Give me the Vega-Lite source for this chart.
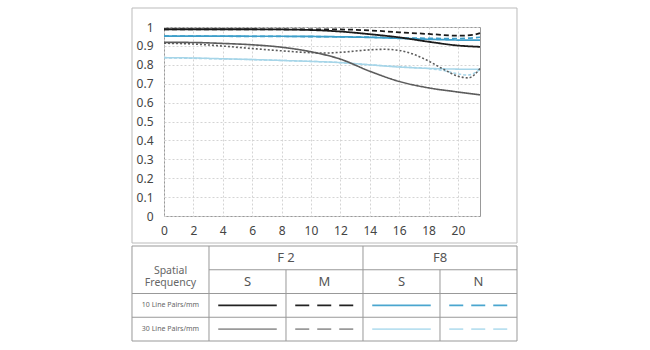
{
  "$schema": "https://vega.github.io/schema/vega-lite/v6.json",
  "padding": {"left": 131, "top": 7, "right": 5, "bottom": 2},
  "autosize": {"type": "pad"},
  "background": "white",
  "config": {
    "font": "Noto Sans",
    "view": {"stroke": null},
    "axis": {"title": null, "labelOverlap": false, "grid": true, "gridColor": "#d4d4d4", "gridDash": [2, 2], "domain": false, "ticks": false, "tickSize": 0, "labelFontSize": 12, "labelColor": "#444", "labelFlush": false}
  },
  "spacing": 0,
  "resolve": {"scale": {"color": "independent", "strokeDash": "independent", "strokeWidth": "independent"}},
  "datasets": {
    "mtf": [
      {"s": "F8 S 30", "x": 0, "v": 0.838}, {"s": "F8 S 30", "x": 2, "v": 0.836}, {"s": "F8 S 30", "x": 4, "v": 0.832}, {"s": "F8 S 30", "x": 6, "v": 0.828}, {"s": "F8 S 30", "x": 8, "v": 0.823}, {"s": "F8 S 30", "x": 10, "v": 0.818}, {"s": "F8 S 30", "x": 12, "v": 0.812}, {"s": "F8 S 30", "x": 14, "v": 0.8}, {"s": "F8 S 30", "x": 16, "v": 0.788}, {"s": "F8 S 30", "x": 18, "v": 0.781}, {"s": "F8 S 30", "x": 20, "v": 0.777}, {"s": "F8 S 30", "x": 21.5, "v": 0.776},
      {"s": "F8 N 30", "x": 0, "v": 0.837}, {"s": "F8 N 30", "x": 4, "v": 0.831}, {"s": "F8 N 30", "x": 8, "v": 0.823}, {"s": "F8 N 30", "x": 12, "v": 0.811}, {"s": "F8 N 30", "x": 14, "v": 0.8}, {"s": "F8 N 30", "x": 16, "v": 0.79}, {"s": "F8 N 30", "x": 18, "v": 0.78}, {"s": "F8 N 30", "x": 19, "v": 0.77}, {"s": "F8 N 30", "x": 20, "v": 0.752}, {"s": "F8 N 30", "x": 20.7, "v": 0.746}, {"s": "F8 N 30", "x": 21.5, "v": 0.776},
      {"s": "F2 S 30", "x": 0, "v": 0.919}, {"s": "F2 S 30", "x": 2, "v": 0.918}, {"s": "F2 S 30", "x": 4, "v": 0.913}, {"s": "F2 S 30", "x": 6, "v": 0.906}, {"s": "F2 S 30", "x": 8, "v": 0.893}, {"s": "F2 S 30", "x": 10, "v": 0.869}, {"s": "F2 S 30", "x": 12, "v": 0.83}, {"s": "F2 S 30", "x": 14, "v": 0.766}, {"s": "F2 S 30", "x": 16, "v": 0.712}, {"s": "F2 S 30", "x": 18, "v": 0.678}, {"s": "F2 S 30", "x": 20, "v": 0.656}, {"s": "F2 S 30", "x": 21.5, "v": 0.641},
      {"s": "F2 M 30", "x": 0, "v": 0.914}, {"s": "F2 M 30", "x": 2, "v": 0.91}, {"s": "F2 M 30", "x": 4, "v": 0.899}, {"s": "F2 M 30", "x": 6, "v": 0.886}, {"s": "F2 M 30", "x": 8, "v": 0.874}, {"s": "F2 M 30", "x": 10, "v": 0.864}, {"s": "F2 M 30", "x": 11, "v": 0.862}, {"s": "F2 M 30", "x": 12, "v": 0.866}, {"s": "F2 M 30", "x": 14, "v": 0.879}, {"s": "F2 M 30", "x": 15, "v": 0.882}, {"s": "F2 M 30", "x": 16, "v": 0.876}, {"s": "F2 M 30", "x": 17, "v": 0.855}, {"s": "F2 M 30", "x": 18, "v": 0.82}, {"s": "F2 M 30", "x": 19, "v": 0.777}, {"s": "F2 M 30", "x": 20, "v": 0.74}, {"s": "F2 M 30", "x": 20.7, "v": 0.731}, {"s": "F2 M 30", "x": 21.5, "v": 0.78},
      {"s": "F8 S 10", "x": 0, "v": 0.952}, {"s": "F8 S 10", "x": 2, "v": 0.952}, {"s": "F8 S 10", "x": 4, "v": 0.952}, {"s": "F8 S 10", "x": 6, "v": 0.951}, {"s": "F8 S 10", "x": 8, "v": 0.951}, {"s": "F8 S 10", "x": 10, "v": 0.95}, {"s": "F8 S 10", "x": 12, "v": 0.948}, {"s": "F8 S 10", "x": 14, "v": 0.945}, {"s": "F8 S 10", "x": 16, "v": 0.94}, {"s": "F8 S 10", "x": 18, "v": 0.935}, {"s": "F8 S 10", "x": 20, "v": 0.931}, {"s": "F8 S 10", "x": 21.5, "v": 0.93},
      {"s": "F8 N 10", "x": 0, "v": 0.952}, {"s": "F8 N 10", "x": 4, "v": 0.951}, {"s": "F8 N 10", "x": 8, "v": 0.95}, {"s": "F8 N 10", "x": 12, "v": 0.948}, {"s": "F8 N 10", "x": 14, "v": 0.946}, {"s": "F8 N 10", "x": 16, "v": 0.943}, {"s": "F8 N 10", "x": 18, "v": 0.94}, {"s": "F8 N 10", "x": 20, "v": 0.939}, {"s": "F8 N 10", "x": 21.5, "v": 0.946},
      {"s": "F2 S 10", "x": 0, "v": 0.988}, {"s": "F2 S 10", "x": 2, "v": 0.988}, {"s": "F2 S 10", "x": 4, "v": 0.988}, {"s": "F2 S 10", "x": 6, "v": 0.988}, {"s": "F2 S 10", "x": 8, "v": 0.987}, {"s": "F2 S 10", "x": 10, "v": 0.984}, {"s": "F2 S 10", "x": 12, "v": 0.976}, {"s": "F2 S 10", "x": 14, "v": 0.962}, {"s": "F2 S 10", "x": 16, "v": 0.945}, {"s": "F2 S 10", "x": 18, "v": 0.922}, {"s": "F2 S 10", "x": 20, "v": 0.902}, {"s": "F2 S 10", "x": 21.5, "v": 0.895},
      {"s": "F2 M 10", "x": 0, "v": 0.988}, {"s": "F2 M 10", "x": 2, "v": 0.988}, {"s": "F2 M 10", "x": 4, "v": 0.988}, {"s": "F2 M 10", "x": 6, "v": 0.988}, {"s": "F2 M 10", "x": 8, "v": 0.988}, {"s": "F2 M 10", "x": 10, "v": 0.988}, {"s": "F2 M 10", "x": 12, "v": 0.987}, {"s": "F2 M 10", "x": 14, "v": 0.982}, {"s": "F2 M 10", "x": 16, "v": 0.972}, {"s": "F2 M 10", "x": 18, "v": 0.963}, {"s": "F2 M 10", "x": 20, "v": 0.954}, {"s": "F2 M 10", "x": 21, "v": 0.958}, {"s": "F2 M 10", "x": 21.5, "v": 0.968}
    ]
  },
  "vconcat": [
    {
      "width": 316,
      "height": 189,
      "view": {"stroke": "#999", "strokeWidth": 1},
      "layer": [
        {
          "data": {"name": "mtf"},
          "mark": {"type": "line", "interpolate": "monotone"},
          "encoding": {
            "x": {
              "field": "x", "type": "quantitative",
              "scale": {"domain": [0, 21.5], "nice": false, "zero": false},
              "axis": {"values": [0, 2, 4, 6, 8, 10, 12, 14, 16, 18, 20], "labelPadding": 9}
            },
            "y": {
              "field": "v", "type": "quantitative",
              "scale": {"domain": [0, 1], "nice": false},
              "axis": {"values": [0, 0.1, 0.2, 0.3, 0.4, 0.5, 0.6, 0.7, 0.8, 0.9, 1], "format": ".1~f", "labelPadding": 11}
            },
            "color": {
              "field": "s", "type": "nominal", "legend": null,
              "scale": {"domain": ["F2 S 10", "F2 M 10", "F8 S 10", "F8 N 10", "F2 S 30", "F2 M 30", "F8 S 30", "F8 N 30"],
                        "range": ["#1a1a1a", "#1a1a1a", "#3d9ec9", "#3d9ec9", "#5c5c5c", "#5c5c5c", "#a6d5e8", "#a6d5e8"]}
            },
            "strokeDash": {
              "field": "s", "type": "nominal", "legend": null,
              "scale": {"domain": ["F2 S 10", "F2 M 10", "F8 S 10", "F8 N 10", "F2 S 30", "F2 M 30", "F8 S 30", "F8 N 30"],
                        "range": [[1, 0], [5, 3], [1, 0], [5, 3], [1, 0], [2, 2], [1, 0], [3, 2]]}
            },
            "strokeWidth": {
              "field": "s", "type": "nominal", "legend": null,
              "scale": {"domain": ["F2 S 10", "F2 M 10", "F8 S 10", "F8 N 10", "F2 S 30", "F2 M 30", "F8 S 30", "F8 N 30"],
                        "range": [1.8, 1.5, 1.5, 1.3, 0.9, 1, 1.2, 1.2]}
            }
          }
        },
        {
          "data": {"values": [{}]},
          "mark": {"type": "rect", "fill": "transparent", "stroke": "#bbb", "strokeWidth": 1},
          "encoding": {
            "x": {"datum": -2.177, "type": "quantitative", "axis": {"values": [0, 2, 4, 6, 8, 10, 12, 14, 16, 18, 20], "labelPadding": 9}},
            "x2": {"datum": 24.017},
            "y": {"datum": 1.1005, "type": "quantitative", "axis": {"values": [0, 0.1, 0.2, 0.3, 0.4, 0.5, 0.6, 0.7, 0.8, 0.9, 1], "format": ".1~f", "labelPadding": 11}},
            "y2": {"datum": -0.1429}
          }
        }
      ]
    },
    {
      "width": 353,
      "height": 95,
      "layer": [
        {
          "data": {"values": [{}]},
          "mark": {"type": "rect", "fill": "transparent", "stroke": "#999", "strokeWidth": 1},
          "encoding": {
            "x": {"datum": 0, "type": "quantitative", "scale": {"domain": [0.4156, 5], "nice": false, "zero": false}, "axis": null},
            "x2": {"datum": 5},
            "y": {"datum": 0, "type": "quantitative", "scale": {"domain": [0, 4], "reverse": true, "nice": false}, "axis": null},
            "y2": {"datum": 4}
          }
        },
        {
          "data": {"values": [{"x": 1, "y1": 0, "y2": 4}, {"x": 2, "y1": 1, "y2": 4}, {"x": 3, "y1": 0, "y2": 4}, {"x": 4, "y1": 1, "y2": 4}]},
          "mark": {"type": "rule", "color": "#999", "strokeWidth": 1},
          "encoding": {
            "x": {"field": "x", "type": "quantitative", "axis": null},
            "y": {"field": "y1", "type": "quantitative", "axis": null},
            "y2": {"field": "y2"}
          }
        },
        {
          "data": {"values": [{"y": 1, "x1": 1, "x2": 5}, {"y": 2, "x1": 0, "x2": 5}, {"y": 3, "x1": 0, "x2": 5}]},
          "mark": {"type": "rule", "color": "#999", "strokeWidth": 1},
          "encoding": {
            "x": {"field": "x1", "type": "quantitative", "axis": null},
            "x2": {"field": "x2"},
            "y": {"field": "y", "type": "quantitative", "axis": null}
          }
        },
        {
          "data": {"values": [{"t": "F 2", "x": 2, "y": 0.5}, {"t": "F8", "x": 4, "y": 0.5}, {"t": "S", "x": 1.5, "y": 1.5}, {"t": "M", "x": 2.5, "y": 1.5}, {"t": "S", "x": 3.5, "y": 1.5}, {"t": "N", "x": 4.5, "y": 1.5}]},
          "mark": {"type": "text", "fontSize": 13, "color": "#555", "baseline": "middle", "align": "center"},
          "encoding": {
            "x": {"field": "x", "type": "quantitative", "axis": null},
            "y": {"field": "y", "type": "quantitative", "axis": null},
            "text": {"field": "t"}
          }
        },
        {
          "data": {"values": [{"t": "Spatial\nFrequency", "x": 0.5, "y": 1.05}]},
          "mark": {"type": "text", "fontSize": 10.5, "color": "#666", "baseline": "middle", "align": "center", "lineBreak": "\n", "lineHeight": 12.5},
          "encoding": {
            "x": {"field": "x", "type": "quantitative", "axis": null},
            "y": {"field": "y", "type": "quantitative", "axis": null},
            "text": {"field": "t"}
          }
        },
        {
          "data": {"values": [{"t": "10 Line Pairs/mm", "x": 0.5, "y": 2.5}, {"t": "30 Line Pairs/mm", "x": 0.5, "y": 3.5}]},
          "mark": {"type": "text", "fontSize": 7, "color": "#666", "baseline": "middle", "align": "center"},
          "encoding": {
            "x": {"field": "x", "type": "quantitative", "axis": null},
            "y": {"field": "y", "type": "quantitative", "axis": null},
            "text": {"field": "t"}
          }
        },
        {
          "data": {"values": [
            {"s": "F2 S 10", "x1": 1.12, "x2": 1.88, "y": 2.5}, {"s": "F2 M 10", "x1": 2.12, "x2": 2.88, "y": 2.5},
            {"s": "F8 S 10", "x1": 3.12, "x2": 3.88, "y": 2.5}, {"s": "F8 N 10", "x1": 4.12, "x2": 4.88, "y": 2.5},
            {"s": "F2 S 30", "x1": 1.12, "x2": 1.88, "y": 3.5}, {"s": "F2 M 30", "x1": 2.12, "x2": 2.88, "y": 3.5},
            {"s": "F8 S 30", "x1": 3.12, "x2": 3.88, "y": 3.5}, {"s": "F8 N 30", "x1": 4.12, "x2": 4.88, "y": 3.5}
          ]},
          "mark": {"type": "rule"},
          "encoding": {
            "x": {"field": "x1", "type": "quantitative", "axis": null},
            "x2": {"field": "x2"},
            "y": {"field": "y", "type": "quantitative", "axis": null},
            "color": {
              "field": "s", "type": "nominal", "legend": null,
              "scale": {"domain": ["F2 S 10", "F2 M 10", "F8 S 10", "F8 N 10", "F2 S 30", "F2 M 30", "F8 S 30", "F8 N 30"],
                        "range": ["#222", "#222", "#4aa6cf", "#4aa6cf", "#9a9a9a", "#9a9a9a", "#b9e0f0", "#b9e0f0"]}
            },
            "strokeDash": {
              "field": "s", "type": "nominal", "legend": null,
              "scale": {"domain": ["F2 S 10", "F2 M 10", "F8 S 10", "F8 N 10", "F2 S 30", "F2 M 30", "F8 S 30", "F8 N 30"],
                        "range": [[1, 0], [14, 8], [1, 0], [14, 8], [1, 0], [14, 8], [1, 0], [14, 8]]}
            },
            "strokeWidth": {
              "field": "s", "type": "nominal", "legend": null,
              "scale": {"domain": ["F2 S 10", "F2 M 10", "F8 S 10", "F8 N 10", "F2 S 30", "F2 M 30", "F8 S 30", "F8 N 30"],
                        "range": [1.6, 1.6, 1.5, 1.5, 1.2, 1.2, 1.2, 1.2]}
            }
          }
        }
      ]
    }
  ]
}
